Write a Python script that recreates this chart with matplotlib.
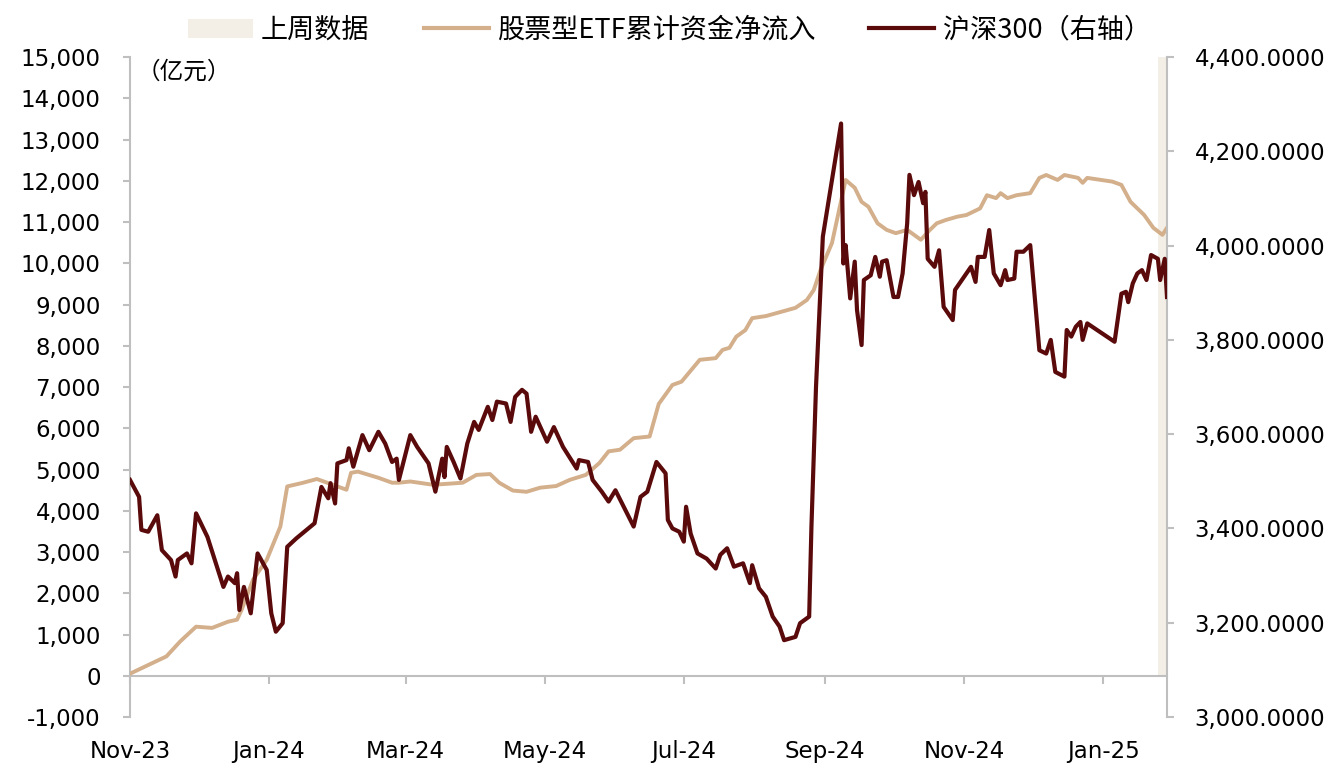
import pandas as pd
import matplotlib
matplotlib.use("Agg")
import matplotlib.pyplot as plt
import matplotlib.dates as mdates
from matplotlib.patches import Patch
from matplotlib.lines import Line2D
from matplotlib.ticker import FuncFormatter

plt.rcParams['font.family'] = ['DejaVu Sans', 'Noto Sans CJK SC']

# 股票型ETF累计资金净流入（亿元）
etf_dates = [
    "2023-11-01", "2023-11-17", "2023-11-23", "2023-11-30", "2023-12-07", "2023-12-14",
    "2023-12-18", "2023-12-20", "2023-12-25", "2023-12-31", "2024-01-06", "2024-01-09",
    "2024-01-16", "2024-01-22", "2024-01-25", "2024-01-31", "2024-02-04", "2024-02-06",
    "2024-02-09", "2024-02-18", "2024-02-24", "2024-02-27", "2024-03-03", "2024-03-13",
    "2024-03-26", "2024-04-01", "2024-04-07", "2024-04-11", "2024-04-17", "2024-04-23",
    "2024-04-29", "2024-05-06", "2024-05-12", "2024-05-19", "2024-05-25", "2024-05-29",
    "2024-06-03", "2024-06-09", "2024-06-16", "2024-06-20", "2024-06-26", "2024-06-30",
    "2024-07-08", "2024-07-15", "2024-07-18", "2024-07-21", "2024-07-24", "2024-07-28",
    "2024-07-31", "2024-08-06", "2024-08-19", "2024-08-24", "2024-08-27", "2024-08-30",
    "2024-09-04", "2024-09-10", "2024-09-14", "2024-09-17", "2024-09-20", "2024-09-24",
    "2024-09-28", "2024-10-02", "2024-10-07", "2024-10-10", "2024-10-13", "2024-10-17",
    "2024-10-20", "2024-10-24", "2024-10-29", "2024-11-02", "2024-11-08", "2024-11-11",
    "2024-11-15", "2024-11-17", "2024-11-20", "2024-11-24", "2024-11-30", "2024-12-04",
    "2024-12-07", "2024-12-12", "2024-12-15", "2024-12-21", "2024-12-23", "2024-12-25",
    "2025-01-05", "2025-01-09", "2025-01-13", "2025-01-19", "2025-01-23", "2025-01-27",
    "2025-01-29",
]
etf_values = [
    50, 470, 830, 1190, 1160, 1310,
    1360, 1600, 2330, 2810, 3620, 4590,
    4680, 4770, 4710, 4590, 4510, 4920,
    4950, 4800, 4680, 4680, 4710, 4630,
    4680, 4870, 4890, 4680, 4490, 4460,
    4560, 4600, 4750, 4870, 5160, 5440,
    5480, 5760, 5800, 6590, 7050, 7130,
    7660, 7700, 7900, 7950, 8220, 8380,
    8670, 8720, 8920, 9110, 9350, 9840,
    10490, 12020, 11830, 11490, 11370, 10970,
    10810, 10730, 10810, 10690, 10570, 10810,
    10970, 11050, 11130, 11170, 11330, 11650,
    11580, 11700, 11580, 11650, 11700, 12070,
    12140, 12020, 12140, 12070, 11950, 12070,
    11980, 11900, 11490, 11170, 10860, 10690,
    10860,
]

# 沪深300（右轴）
hs300_dates = [
    "2023-11-01", "2023-11-05", "2023-11-06", "2023-11-09", "2023-11-13", "2023-11-15",
    "2023-11-19", "2023-11-21", "2023-11-22", "2023-11-26", "2023-11-28", "2023-11-30",
    "2023-12-05", "2023-12-11", "2023-12-12", "2023-12-14", "2023-12-17", "2023-12-18",
    "2023-12-19", "2023-12-21", "2023-12-24", "2023-12-27", "2023-12-31", "2024-01-02",
    "2024-01-04", "2024-01-07", "2024-01-09", "2024-01-13", "2024-01-21", "2024-01-24",
    "2024-01-27", "2024-01-28", "2024-01-30", "2024-01-31", "2024-02-04", "2024-02-05",
    "2024-02-07", "2024-02-11", "2024-02-14", "2024-02-18", "2024-02-21", "2024-02-24",
    "2024-02-26", "2024-02-27", "2024-03-03", "2024-03-06", "2024-03-11", "2024-03-14",
    "2024-03-17", "2024-03-18", "2024-03-19", "2024-03-22", "2024-03-25", "2024-03-28",
    "2024-03-31", "2024-04-02", "2024-04-06", "2024-04-08", "2024-04-10", "2024-04-14",
    "2024-04-16", "2024-04-18", "2024-04-21", "2024-04-23", "2024-04-25", "2024-04-27",
    "2024-05-02", "2024-05-05", "2024-05-09", "2024-05-15", "2024-05-16", "2024-05-20",
    "2024-05-22", "2024-05-26", "2024-05-29", "2024-06-01", "2024-06-09", "2024-06-12",
    "2024-06-15", "2024-06-19", "2024-06-23", "2024-06-24", "2024-06-26", "2024-06-29",
    "2024-07-01", "2024-07-02", "2024-07-04", "2024-07-07", "2024-07-11", "2024-07-15",
    "2024-07-17", "2024-07-20", "2024-07-23", "2024-07-27", "2024-07-30", "2024-07-31",
    "2024-08-03", "2024-08-06", "2024-08-09", "2024-08-12", "2024-08-14", "2024-08-19",
    "2024-08-21", "2024-08-25", "2024-08-26", "2024-08-28", "2024-08-31", "2024-09-08",
    "2024-09-09", "2024-09-10", "2024-09-12", "2024-09-14", "2024-09-15", "2024-09-17",
    "2024-09-18", "2024-09-21", "2024-09-23", "2024-09-25", "2024-09-26", "2024-09-28",
    "2024-10-01", "2024-10-03", "2024-10-05", "2024-10-07", "2024-10-08", "2024-10-10",
    "2024-10-12", "2024-10-14", "2024-10-15", "2024-10-16", "2024-10-19", "2024-10-21",
    "2024-10-23", "2024-10-27", "2024-10-28", "2024-10-30", "2024-11-04", "2024-11-06",
    "2024-11-07", "2024-11-10", "2024-11-12", "2024-11-14", "2024-11-17", "2024-11-19",
    "2024-11-20", "2024-11-23", "2024-11-24", "2024-11-27", "2024-11-30", "2024-12-04",
    "2024-12-07", "2024-12-09", "2024-12-11", "2024-12-15", "2024-12-16", "2024-12-18",
    "2024-12-20", "2024-12-22", "2024-12-23", "2024-12-25", "2025-01-06", "2025-01-09",
    "2025-01-11", "2025-01-12", "2025-01-14", "2025-01-16", "2025-01-18", "2025-01-20",
    "2025-01-22", "2025-01-25", "2025-01-26", "2025-01-28", "2025-01-29",
]
hs300_values = [
    3503, 3467, 3397, 3393, 3428, 3354,
    3333, 3298, 3333, 3347, 3326, 3432,
    3382, 3291, 3276, 3298, 3284, 3305,
    3227, 3276, 3220, 3347, 3312, 3220,
    3181, 3199, 3361, 3379, 3411, 3488,
    3464, 3496, 3453, 3538, 3545, 3570,
    3531, 3598, 3566, 3605, 3580, 3541,
    3548, 3503, 3598, 3573, 3538, 3478,
    3548, 3509, 3573, 3541, 3506, 3580,
    3626, 3609, 3658, 3630, 3669, 3665,
    3626, 3679, 3694, 3686, 3605, 3637,
    3584, 3615, 3573, 3527, 3545, 3541,
    3503, 3478, 3457, 3481, 3404, 3467,
    3478, 3541, 3517, 3418, 3400, 3393,
    3372, 3446, 3389, 3347, 3336, 3315,
    3344, 3358, 3319, 3326, 3284, 3322,
    3273, 3255, 3213, 3192, 3163, 3170,
    3199, 3213, 3404, 3700, 4019, 4259,
    3962, 4001, 3888, 3966, 3863, 3789,
    3927, 3937, 3976, 3934, 3966, 3969,
    3891, 3891, 3941, 4047, 4150, 4107,
    4135, 4090, 4114, 3972, 3955, 3990,
    3870, 3842, 3906, 3920, 3955, 3923,
    3976, 3976, 4033, 3941, 3916, 3948,
    3927, 3930, 3987, 3987, 4001, 3778,
    3771, 3800, 3732, 3722, 3821, 3807,
    3828, 3838, 3800, 3835, 3796, 3898,
    3902, 3880, 3920, 3941, 3948, 3927,
    3980, 3972, 3927, 3972, 3891,
]

# 上周数据
last_week_start = "2025-01-25"
last_week_end = "2025-01-29"
last_week_height = 15000

tan = "#D3AF8B"
dark = "#5A0A0A"
shade = "#F3EFE6"
grey = "#BFBFBF"

etf_x = pd.to_datetime(etf_dates)
hs_x = pd.to_datetime(hs300_dates)
lw_start = pd.Timestamp(last_week_start)
lw_end = pd.Timestamp(last_week_end)

fig = plt.figure(figsize=(13.44, 7.77), dpi=100)
ax = fig.add_axes([0.0967, 0.0772, 0.7716, 0.8494])
ax2 = ax.twinx()

ax.bar(lw_start, last_week_height, width=(lw_end - lw_start).days, bottom=0,
       align='edge', color=shade, zorder=1)
ax.plot(etf_x, etf_values, color=tan, lw=2.8, zorder=3)
ax2.plot(hs_x, hs300_values, color=dark, lw=3.0, zorder=4)

ax.set_xlim(pd.Timestamp("2023-11-01"), lw_end)
ax.set_ylim(-1000, 15000)
ax2.set_ylim(3000, 4400)
ax.set_yticks(range(-1000, 15001, 1000))
ax2.set_yticks(range(3000, 4401, 200))
ax.yaxis.set_major_formatter(FuncFormatter(lambda v, p: f"{v:,.0f}"))
ax2.yaxis.set_major_formatter(FuncFormatter(lambda v, p: f"{v:,.4f}"))

ax.set_xticks(pd.date_range("2023-11-01", "2025-01-01", freq="2MS"))
ax.xaxis.set_major_formatter(mdates.DateFormatter("%b-%y"))

for a in (ax, ax2):
    a.spines['top'].set_visible(False)
    for s in a.spines.values():
        s.set_color(grey)
        s.set_linewidth(1.5)
ax2.spines['bottom'].set_visible(False)
ax2.spines['left'].set_visible(False)
ax.spines['right'].set_visible(False)
ax.spines['bottom'].set_position(('data', 0))

ax.tick_params(axis='y', length=5, width=1.5, color=grey, pad=16, labelsize=16.5)
ax2.tick_params(axis='y', length=5, width=1.5, color=grey, pad=15, labelsize=16.5)
ax.tick_params(axis='x', length=6, width=1.5, color=grey, pad=40, labelsize=16.5)

ax.text(0.006, 0.995, "（亿元）", transform=ax.transAxes, fontsize=17,
        ha='left', va='top', family=['Noto Sans CJK SC', 'DejaVu Sans'])

handles = [
    Patch(facecolor=shade, edgecolor='none'),
    Line2D([], [], color=tan, lw=3),
    Line2D([], [], color=dark, lw=3),
]
labels = ["上周数据", "股票型ETF累计资金净流入", "沪深300（右轴）"]
fig.legend(handles, labels, loc='upper center', bbox_to_anchor=(0.498, 1.01), ncol=3,
           frameon=False, handlelength=2.4, handletextpad=0.3, columnspacing=2.0,
           prop={'family': ['Noto Sans CJK SC', 'DejaVu Sans'], 'size': 19.5})

fig.savefig("out.png", dpi=100)
